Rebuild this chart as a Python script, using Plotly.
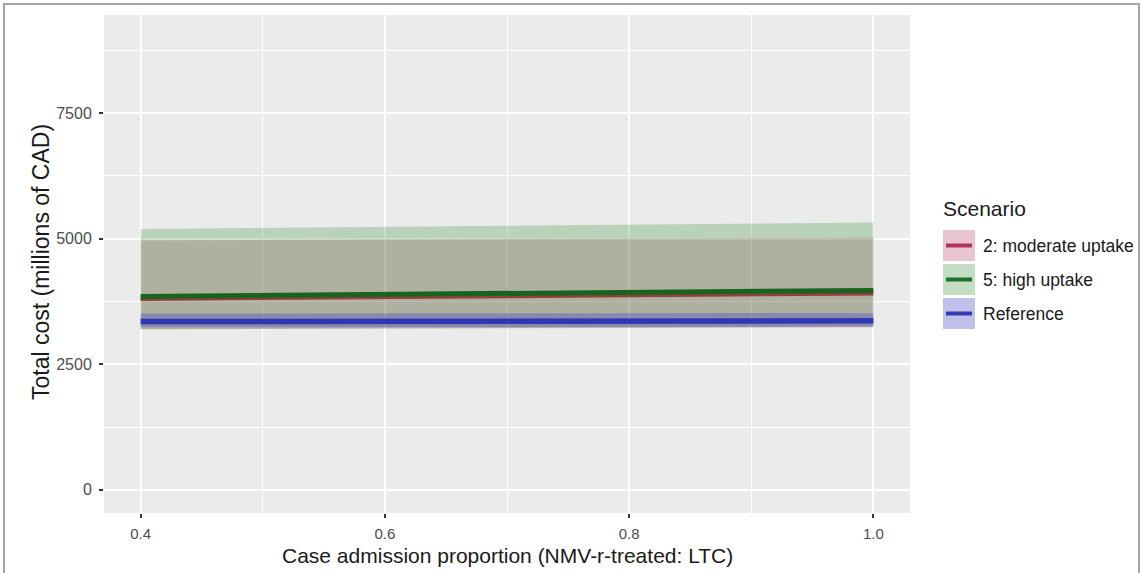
import plotly.graph_objects as go

# Case admission proportion (NMV-r-treated : LTC)
proportion = [0.4, 0.5, 0.6, 0.7, 0.8, 0.9, 1.0]

# Total cost, millions of CAD: mean and uncertainty band per scenario
moderate_mean = [3790, 3810, 3830, 3850, 3865, 3885, 3900]
moderate_low = [3200, 3205, 3210, 3215, 3220, 3225, 3230]
moderate_high = [4965, 4975, 4985, 4995, 5000, 5005, 5015]

high_mean = [3850, 3870, 3895, 3910, 3930, 3950, 3970]
high_low = [3190, 3200, 3210, 3220, 3230, 3240, 3250]
high_high = [5190, 5210, 5235, 5250, 5270, 5300, 5320]

ref_mean = [3350, 3352, 3355, 3357, 3360, 3362, 3365]
ref_low = [3235, 3238, 3240, 3242, 3245, 3247, 3250]
ref_high = [3510, 3512, 3515, 3515, 3518, 3520, 3520]

scenario_names = ["2: moderate uptake", "5: high uptake", "Reference"]
x_title = "Case admission proportion (NMV-r-treated: LTC)"
y_title = "Total cost (millions of CAD)"

FONT = "Liberation Sans, Arial, sans-serif"

# Plot area in pixels (figure is 1142 x 573)
W, H = 1142, 573
L, R, T, B = 104, 910, 15, 513


def px(x):
    return (x - L) / (R - L)


def py(y):
    return (B - y) / (B - T)


fig = go.Figure()

bands = [
    (moderate_low, moderate_high, "rgba(175,40,85,0.22)"),
    (high_low, high_high, "rgba(30,125,30,0.24)"),
    (ref_low, ref_high, "rgba(55,55,215,0.32)"),
]
for low, high, fill in bands:
    fig.add_trace(go.Scatter(x=proportion, y=high, mode="lines",
                             line=dict(width=0), hoverinfo="skip",
                             showlegend=False))
    fig.add_trace(go.Scatter(x=proportion, y=low, mode="lines",
                             line=dict(width=0), fill="tonexty",
                             fillcolor=fill, hoverinfo="skip",
                             showlegend=False))

lines = [
    (moderate_mean, "rgb(150,62,62)", 3),
    (high_mean, "rgb(22,100,30)", 5),
    (ref_mean, "rgb(48,55,178)", 5.5),
]
for vals, color, width in lines:
    fig.add_trace(go.Scatter(x=proportion, y=vals, mode="lines",
                             line=dict(color=color, width=width),
                             showlegend=False))

# Legend built from shapes and text, ggplot style
shapes = []
annotations = []
key_fill = ["rgb(232,197,209)", "rgb(197,221,197)", "rgb(192,192,234)"]
key_line = ["rgb(178,52,92)", "rgb(30,115,40)", "rgb(52,60,175)"]
key_tops = [229, 263, 297]
key_h = 33
for name, fc, lc, top in zip(scenario_names, key_fill, key_line, key_tops):
    shapes.append(dict(type="rect", xref="paper", yref="paper",
                       x0=px(943), x1=px(975), y0=py(top + key_h - 1),
                       y1=py(top + 1), fillcolor=fc, line=dict(width=0),
                       layer="above"))
    cy = top + key_h / 2
    shapes.append(dict(type="line", xref="paper", yref="paper",
                       x0=px(946), x1=px(972), y0=py(cy), y1=py(cy),
                       line=dict(color=lc, width=4), layer="above"))
    annotations.append(dict(text=name, xref="paper", yref="paper",
                            x=px(981), y=py(cy), xanchor="left",
                            yanchor="middle", showarrow=False,
                            font=dict(family=FONT, size=17.5, color="#1a1a1a")))
annotations.append(dict(text="Scenario", xref="paper", yref="paper",
                        x=px(941), y=py(208), xanchor="left", yanchor="middle",
                        showarrow=False,
                        font=dict(family=FONT, size=21, color="#1a1a1a")))

# Axis titles
annotations.append(dict(text=x_title, xref="paper", yref="paper",
                        x=px(507), y=py(555), xanchor="center",
                        yanchor="middle", showarrow=False,
                        font=dict(family=FONT, size=21, color="#1a1a1a")))
annotations.append(dict(text=y_title, xref="paper", yref="paper",
                        x=px(41), y=py(262), xanchor="center",
                        yanchor="middle", textangle=-90, showarrow=False,
                        font=dict(family=FONT, size=23, color="#1a1a1a")))

# Outer frame
frame = "rgb(165,165,165)"
for x0, y0, x1, y1 in [(3, 4, 1140, 4), (4, 4, 4, 573), (1139, 4, 1139, 573)]:
    shapes.append(dict(type="line", xref="paper", yref="paper",
                       x0=px(x0), x1=px(x1), y0=py(y0), y1=py(y1),
                       line=dict(color=frame, width=2)))

fig.update_layout(
    width=W, height=H,
    margin=dict(l=L, r=W - R, t=T, b=H - B, pad=0),
    paper_bgcolor="white",
    plot_bgcolor="#EBEBEB",
    font=dict(family=FONT, color="#4d4d4d"),
    showlegend=False,
    shapes=shapes,
    annotations=annotations,
)

fig.update_xaxes(
    range=[0.37, 1.03], tick0=0.4, dtick=0.2, tickformat=".1f",
    showgrid=True, gridcolor="white", gridwidth=1.6,
    minor=dict(dtick=0.1, tick0=0.4, showgrid=True, gridcolor="white",
               gridwidth=0.7),
    zeroline=False, showline=False,
    ticks="outside", ticklen=4, tickwidth=1.5, tickcolor="#333333",
    ticklabelstandoff=3,
    tickfont=dict(size=15, color="#4d4d4d"),
)
fig.update_yaxes(
    range=[-460, 9450], tick0=0, dtick=2500,
    showgrid=True, gridcolor="white", gridwidth=1.6,
    minor=dict(dtick=1250, tick0=0, showgrid=True, gridcolor="white",
               gridwidth=0.7),
    zeroline=False, showline=False,
    ticks="outside", ticklen=4, tickwidth=1.5, tickcolor="#333333",
    ticklabelstandoff=4,
    tickfont=dict(size=16, color="#4d4d4d"),
)

fig.write_html("out.html")
